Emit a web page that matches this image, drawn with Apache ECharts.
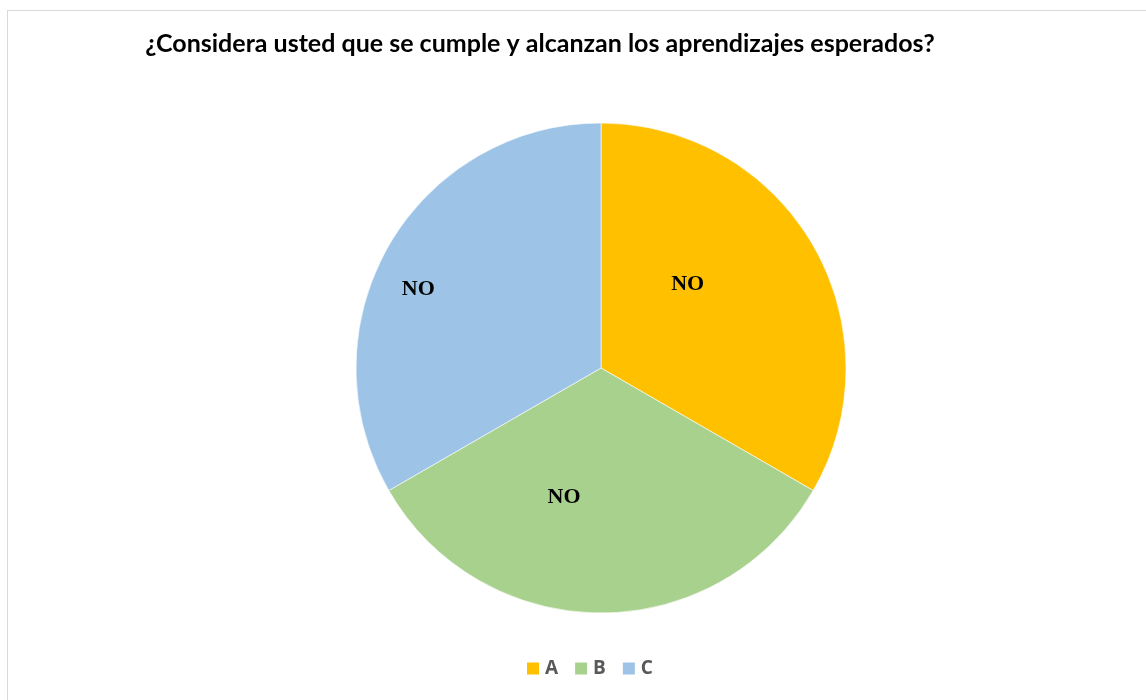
<!DOCTYPE html>
<html>
<head>
<meta charset="utf-8">
<script src="https://cdn.jsdelivr.net/npm/echarts@6/dist/echarts.min.js"></script>
<style>
  html, body { margin: 0; padding: 0; background: #fff; overflow: hidden; }
  #frame { position: absolute; left: 7px; top: 10px; width: 1200px; height: 760px; border: 1px solid #d9d9d9; }
  #main { position: absolute; left: 0; top: 0; width: 1146px; height: 700px; }
</style>
</head>
<body>
<div id="frame"></div>
<div id="main"></div>
<script>
let title = '¿Considera usted que se cumple y alcanzan los aprendizajes esperados?';
let categories = ['A', 'B', 'C'];
let values = [1, 1, 1];
let sliceLabels = ['NO', 'NO', 'NO'];
let colors = ['#FFC000', '#A9D18E', '#9DC3E6'];
// nudges to match where the labels sit in the original
let labelNudge = [[-22, -21], [-37, 4], [-74, -16]];

let myChart = echarts.init(document.getElementById('main'));
let option = {
    animation: false,
    color: colors,
    title: {
        text: title,
        left: 535,
        top: 26,
        textAlign: 'center',
        textStyle: {
            fontFamily: 'Lato',
            fontWeight: 'bold',
            fontSize: 25,
            color: '#000'
        }
    },
    legend: {
        top: 654,
        left: 520,
        itemWidth: 14,
        itemHeight: 14,
        itemGap: 15,
        icon: 'rect',
        textStyle: {
            fontFamily: 'Open Sans',
            fontWeight: 'bold',
            fontSize: 19,
            color: '#595959'
        },
        data: categories
    },
    series: [{
        type: 'pie',
        center: [601, 368],
        radius: [0, 245],
        startAngle: 90,
        clockwise: true,
        silent: true,
        itemStyle: { borderColor: '#fff', borderWidth: 0.6 },
        label: {
            show: true,
            position: 'inside',
            fontFamily: 'Liberation Serif',
            fontWeight: 'bold',
            fontSize: 22,
            color: '#000'
        },
        labelLine: { show: false },
        data: categories.map(function (c, i) {
            return {
                name: c,
                value: values[i],
                label: { formatter: sliceLabels[i], offset: labelNudge[i] }
            };
        })
    }]
};
myChart.setOption(option);
</script>
</body>
</html>
